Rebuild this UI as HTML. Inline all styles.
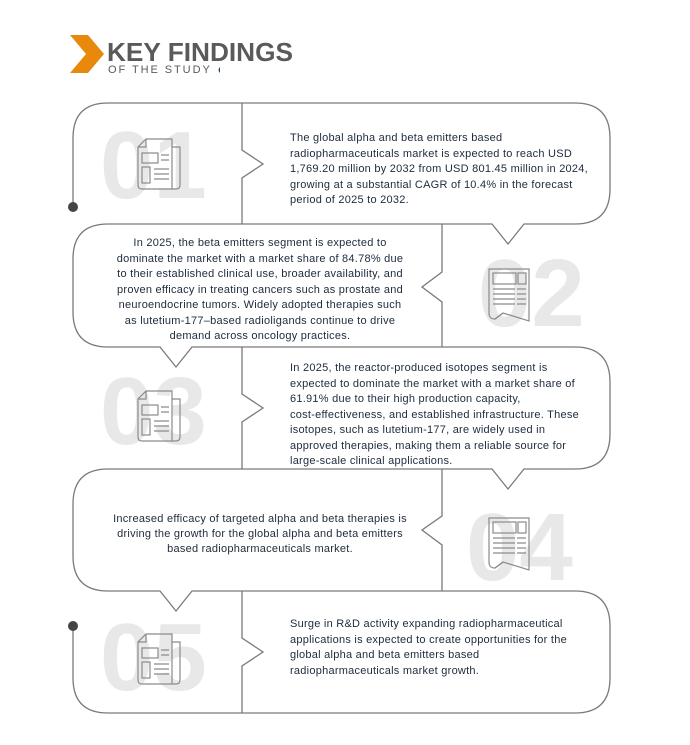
<!DOCTYPE html>
<html><head><meta charset="utf-8"><style>
html,body{margin:0;padding:0;background:#fff;}
body{width:690px;height:745px;position:relative;overflow:hidden;font-family:"Liberation Sans",sans-serif;}
svg{position:absolute;left:0;top:0;}
.t{position:absolute;font-size:11px;letter-spacing:0.25px;line-height:15.5px;color:#1d2b3c;white-space:nowrap;}
.c{text-align:center;}
</style></head><body>
<svg width="690" height="745" viewBox="0 0 690 745">
<defs>
<g id="icA" fill="none" stroke="#8a8a8a" stroke-width="1.2">
<path d="M8,0 L34,0 L34,8 L42,8 L42,46 Q42,50 38,50 L4,50 Q0,50 0,46 L0,8 Z"/>
<path d="M0,8 L8,8 L8,0"/>
<path d="M34,8 L34,50"/>
<rect x="4" y="14" width="16" height="10"/><rect x="4" y="28" width="8" height="16"/>
<path d="M23,16h8M23,21h8M16,30h15M16,35h15M16,40h15"/>
</g>
<g id="icB" fill="none" stroke="#8a8a8a" stroke-width="1.2">
<path d="M0,0 L40,0 L40,52 L14,44 L6,50 Q0,50 0,44 Z"/>
<path d="M14,44 L6,50"/>
<rect x="4" y="4" width="23" height="11"/><rect x="29" y="4" width="8" height="11"/>
<path d="M4,20h22M28,20h9M4,25h22M28,25h9M4,30h22M28,30h9M4,35h22M28,35h9"/>
</g>
</defs>
<polygon points="70,35 88,35 104,54 88,73 70,73 86,54" fill="#e8890c"/>
<text x="107" y="61" font-family="Liberation Sans" font-weight="bold" font-size="26" fill="#5a5a5a" textLength="186" lengthAdjust="spacingAndGlyphs">KEY FINDINGS</text>
<text x="108" y="73" font-family="Liberation Sans" font-size="11" letter-spacing="4.2" fill="#5a5a5a" textLength="106">OF THE STUDY</text>
<path d="M220,67 Q217,70 220,73 Z" fill="#1b4c73"/>
<g font-family="Liberation Sans" font-weight="bold" font-size="96" fill="#e8e8e8">
<text x="100" y="198">01</text>
<text x="478" y="326">02</text>
<text x="100" y="444">03</text>
<text x="466" y="580">04</text>
<text x="100" y="690">05</text>
</g>
<use href="#icA" x="138" y="139"/>
<use href="#icB" x="489" y="269"/>
<use href="#icA" x="138" y="391"/>
<use href="#icB" x="489" y="518"/>
<use href="#icA" x="138" y="634"/>
<g fill="none" stroke="#7a7a7a" stroke-width="1.3">
<path d="M73,207 L73,138 Q73,103 108,103 L575,103 Q610,103 610,138 L610,189 Q610,224 575,224 L524,224 L508,244 L492,224 L108,224 Q73,224 73,259 L73,312 Q73,347 108,347 L160,347 L176,367 L192,347 L575,347 Q610,347 610,382 L610,434 Q610,469 575,469 L524,469 L508,489 L492,469 L108,469 Q73,469 73,504 L73,556 Q73,591 108,591 L160,591 L176,611 L192,591 L575,591 Q610,591 610,626 L610,678 Q610,713 575,713 L108,713 Q73,713 73,678 L73,626"/>
<path d="M242,103 L242,150 L263,164 L242,178 L242,224"/>
<path d="M442,224 L442,272 L422,287 L442,302 L442,347"/>
<path d="M242,347 L242,394 L263,408 L242,422 L242,469"/>
<path d="M442,469 L442,516 L422,530 L442,545 L442,591"/>
<path d="M242,591 L242,638 L263,652 L242,666 L242,713"/>
</g>
<circle cx="73" cy="207" r="5" fill="#444"/>
<circle cx="73" cy="626" r="5" fill="#444"/>
</svg>
<div class="t" style="left:290px;top:131px;">The global alpha and beta emitters based<br>radiopharmaceuticals market is expected to reach USD<br>1,769.20 million by 2032 from USD 801.45 million in 2024,<br>growing at a substantial CAGR of 10.4% in the forecast<br>period of 2025 to 2032.</div>
<div class="t c" style="left:80px;width:360px;top:236px;">In 2025, the beta emitters segment is expected to<br>dominate the market with a market share of 84.78% due<br>to their established clinical use, broader availability, and<br>proven efficacy in treating cancers such as prostate and<br>neuroendocrine tumors. Widely adopted therapies such<br>as lutetium-177–based radioligands continue to drive<br>demand across oncology practices.</div>
<div class="t" style="left:290px;top:361px;">In 2025, the reactor-produced isotopes segment is<br>expected to dominate the market with a market share of<br>61.91% due to their high production capacity,<br>cost-effectiveness, and established infrastructure. These<br>isotopes, such as lutetium-177, are widely used in<br>approved therapies, making them a reliable source for<br>large-scale clinical applications.</div>
<div class="t c" style="left:80px;width:360px;top:512px;line-height:15px;">Increased efficacy of targeted alpha and beta therapies is<br>driving the growth for the global alpha and beta emitters<br>based radiopharmaceuticals market.</div>
<div class="t" style="left:290px;top:617px;">Surge in R&amp;D activity expanding radiopharmaceutical<br>applications is expected to create opportunities for the<br>global alpha and beta emitters based<br>radiopharmaceuticals market growth.</div>
</body></html>
